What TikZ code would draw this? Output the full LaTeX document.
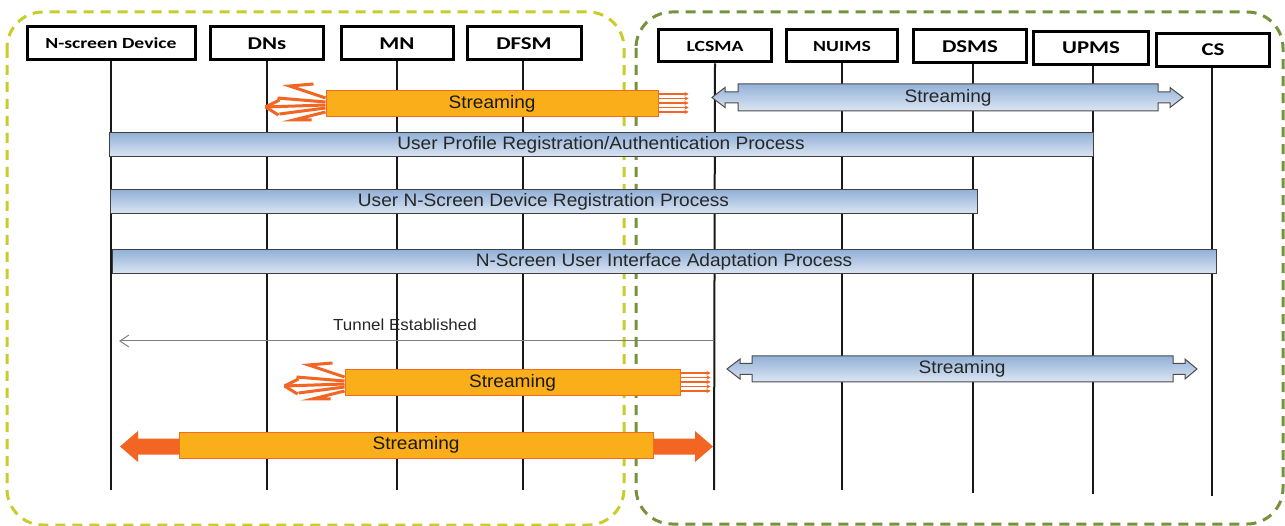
\documentclass[tikz,border=0pt]{standalone}
\usepackage{fontspec}
\setmainfont{Liberation Sans}
\newfontfamily\barfont[FakeStretch=1.06]{Liberation Sans}
\newfontfamily\hdrfont[FakeStretch=1.27]{Carlito}
\usetikzlibrary{arrows.meta}
\definecolor{yellowDash}{HTML}{C9CC2B}
\definecolor{greenDash}{HTML}{76923C}
\definecolor{orFill}{HTML}{FAAE1A}
\definecolor{orEdge}{HTML}{F26B21}
\definecolor{orHead}{HTML}{F26522}
\definecolor{blueTop}{HTML}{93B1D8}
\definecolor{blueBot}{HTML}{DCE6F3}
\tikzset{
  hdr/.style={draw=black, line width=3pt, fill=white, inner sep=0pt,
    minimum height=33pt, text=black,
    font=\hdrfont\bfseries\fontsize{18}{20}\selectfont},
  hdrsmall/.style={hdr, font=\hdrfont\bfseries\fontsize{15.5}{18}\selectfont},
  life/.style={line width=2pt, black!90},
  bluebar/.style={draw=black!75, line width=1pt, top color=blueTop,
    bottom color=blueBot, inner sep=0pt, minimum height=24pt,
    text=black!85, font=\barfont\fontsize{18}{20}\selectfont},
  bluearrow/.style={draw=black!70, line width=1pt, top color=blueTop,
    bottom color=blueBot},
  bartext/.style={inner sep=0pt, text=black!85,
    font=\barfont\fontsize{18}{20}\selectfont},
  orangebar/.style={draw=orEdge, line width=1pt, fill=orFill, inner sep=0pt,
    minimum height=26pt, text=black!90,
    font=\barfont\fontsize{18}{20}\selectfont},
  orangehead/.style={fill=orHead, draw=none},
  fanline/.style={draw=orHead, line width=3pt, line join=miter, line cap=butt},
  multiline/.style={draw=orHead, line width=1.7pt,
    -{Stealth[length=4pt,width=4pt]}},
  tunnel/.style={draw=black!50, line width=1pt,
    -{Straight Barb[length=9pt,width=12pt,line width=1pt]}},
  tunnellabel/.style={inner sep=0pt, text=black!85,
    font=\barfont\fontsize{16}{18}\selectfont},
  groupbox/.style={line width=3pt, dash pattern=on 10pt off 7pt,
    rounded corners=36pt},
  fanhead/.pic={
    \draw[fanline] (0,-6) -- (-36,-18) -- (-12,-20);
    \draw[fanline] (0,-2) -- (-48,-6);
    \draw[fanline] (0,1) -- (-60,3);
    \draw[fanline] (0,4) -- (-46,10);
    \draw[fanline] (0,8) -- (-32,16) -- (-14,16);
    \draw[fanline] (-60,3) -- (-46,-4);
    \draw[fanline] (-60,3) -- (-47,11);
  },
  multiarrow/.pic={
    \foreach \dy in {-9,-4.5,0,4.5,9}
      \draw[multiline] (0,\dy) -- (30,\dy);
  }
}
\begin{document}
\begin{tikzpicture}[x=1pt,y=-1pt]
\useasboundingbox (0,0) rectangle (1285,526);
\fill[white] (0,0) rectangle (1285,526);

% group boxes
\draw[groupbox, draw=yellowDash] (7,12) rectangle (624,525);
\draw[groupbox, draw=greenDash] (636,12) rectangle (1283,524);

% headers
\node[hdrsmall, minimum width=168pt] (hNS) at (111,43.5) {N-screen Device};
\node[hdr, minimum width=113pt] (hDN) at (267,43.5) {DNs};
\node[hdr, minimum width=112pt] (hMN) at (397,43.5) {MN};
\node[hdr, minimum width=114pt] (hDF) at (524,43.5) {DFSM};
\node[hdrsmall, minimum width=113pt, minimum height=32pt] (hLC) at (715,46) {LCSMA};
\node[hdrsmall, minimum width=111pt, minimum height=32pt] (hNU) at (842,46) {NUIMS};
\node[hdr, minimum width=113pt] (hDS) at (970,46.5) {DSMS};
\node[hdr, minimum width=115pt] (hUP) at (1091,48) {UPMS};
\node[hdr, minimum width=113pt] (hCS) at (1213,50) {CS};

% lifeline ends
\coordinate (eNS) at (111,490);
\coordinate (eDN) at (267,490);
\coordinate (eMN) at (397,490);
\coordinate (eDF) at (523,490);
\coordinate (eLC) at (714,490);
\coordinate (eNU) at (842,490);
\coordinate (eDS) at (973,493);
\coordinate (eUP) at (1093,494);
\coordinate (eCS) at (1212,496);

\draw[life] (hNS.south) -- (eNS);
\draw[life] (hDN.south) -- (eDN);
\draw[life] (hMN.south) -- (eMN);
\draw[life] ([xshift=-1pt]hDF.south) -- (eDF);
\draw[life] (hLC.south) -- (eLC);
\draw[life] (hNU.south) -- (eNU);
\draw[life] ([xshift=3pt]hDS.south) -- (eDS);
\draw[life] ([xshift=2pt]hUP.south) -- (eUP);
\draw[life] ([xshift=-1pt]hCS.south) -- (eCS);

% top orange streaming
\node[orangebar, minimum width=332pt] (ob1) at (492,104) {Streaming};
\pic at (ob1.west) {fanhead};
\pic at ([yshift=1pt]ob1.east) {multiarrow};

% top blue streaming
\path[bluearrow] (712,97.5) -- (725,87.5) -- (725,92) -- (738,92) -- (738,84)
  -- (1158,84) -- (1158,92) -- (1170,92) -- (1170,87.5) -- (1183,97.5)
  -- (1170,107.5) -- (1170,103) -- (1158,103) -- (1158,111) -- (738,111)
  -- (738,103) -- (725,103) -- (725,107.5) -- cycle;
\node[bartext] (bs1) at (948,97.5) {Streaming};

% process bars
\node[bluebar, minimum width=984pt] (pUP) at (601,145)
  {User Profile Registration/Authentication Process};
\node[bluebar, minimum width=867pt] (pUN) at (543.5,202)
  {User N-Screen Device Registration Process};
\node[bluebar, minimum width=1104pt] (pUI) at (664,262)
  {N-Screen User Interface Adaptation Process};

% tunnel
\coordinate (tunA) at (714,341);
\coordinate (tunB) at (119,341);
\draw[tunnel] (tunA) -- (tunB);
\node[tunnellabel] (tunL) at (405,325) {Tunnel Established};

% second orange streaming
\node[orangebar, minimum width=335pt] (ob2) at (512.5,383) {Streaming};
\pic at (ob2.west) {fanhead};
\pic at ([yshift=1pt]ob2.east) {multiarrow};

% bottom blue streaming
\path[bluearrow] (727,369) -- (740,359) -- (740,363.5) -- (752,363.5) -- (752,356)
  -- (1173,356) -- (1173,363.5) -- (1185,363.5) -- (1185,359) -- (1197,369)
  -- (1185,379) -- (1185,374.5) -- (1173,374.5) -- (1173,382) -- (752,382)
  -- (752,374.5) -- (740,374.5) -- (740,379) -- cycle;
\node[bartext] (bs2) at (962,369) {Streaming};

% third orange streaming with solid arrows
\path[orangehead] (120,446.5) -- (138,431) -- (138,438.5) -- (182,438.5)
  -- (182,454.5) -- (138,454.5) -- (138,462) -- cycle;
\path[orangehead] (650,438.5) -- (695,438.5) -- (695,431) -- (713,446.5)
  -- (695,462) -- (695,454.5) -- (650,454.5) -- cycle;
\node[orangebar, minimum width=474pt] (ob3) at (416,445) {Streaming};
\end{tikzpicture}
\end{document}
